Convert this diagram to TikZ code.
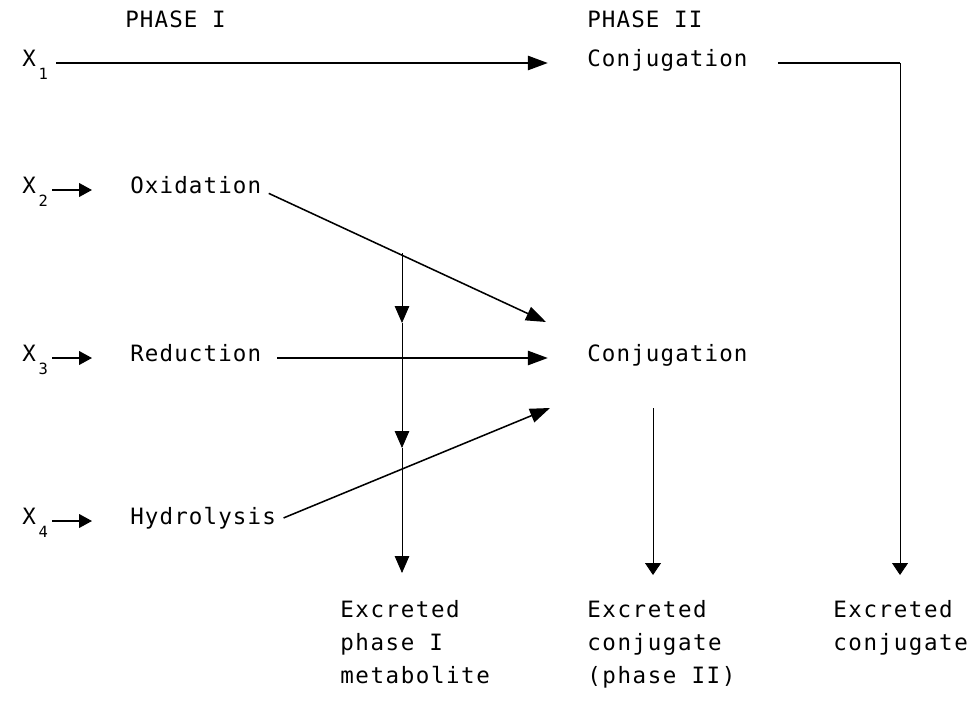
\documentclass[tikz,border=0pt]{standalone}
\usepackage{fontspec}
\setmonofont[LetterSpace=5]{DejaVu Sans Mono}
\newfontfamily\widemono[LetterSpace=7]{DejaVu Sans Mono}
\usetikzlibrary{arrows.meta}
\newcommand{\xsub}[1]{X\kern2pt\raisebox{-1.1ex}{\fontsize{11}{11}\selectfont #1}}

\begin{document}
\begin{tikzpicture}[x=0.025cm,y=-0.025cm,
  every node/.style={font=\ttfamily\fontsize{16}{22}\selectfont,inner sep=0pt,anchor=mid west},
  flow/.style={line width=1.1pt,-{Triangle[length=0.5cm,width=0.36cm]}},
  feed/.style={line width=1.1pt,-{Triangle[length=0.32cm,width=0.34cm]}},
  drop/.style={line width=0.6pt,-{Triangle[length=0.42cm,width=0.36cm]}},
  tail/.style={line width=0.6pt,-{Triangle[length=0.3cm,width=0.4cm]}},
  outlabel/.style={anchor=north west,align=left,font=\widemono\fontsize{16}{23.5}\selectfont}]
  \useasboundingbox (0,0) rectangle (977,709);
  % column heads
  \node (ph1) at (125,24) {PHASE I};
  \node (ph2) at (587,24) {PHASE II};
  % substrates
  \node (x1) at (22,63) {\xsub{1}};
  \node (x2) at (22,190) {\xsub{2}};
  \node (x3) at (22,358) {\xsub{3}};
  \node (x4) at (22,521) {\xsub{4}};
  % phase I reactions
  \node (ox) at (130,190) {Oxidation};
  \node (red) at (130,358) {Reduction};
  \node (hyd) at (130,521) {Hydrolysis};
  % phase II
  \node (conjA) at (587,63) {Conjugation};
  \node (conjB) at (587,358) {Conjugation};
  % excreted products
  \node[outlabel] (exc1) at (340,600) {Excreted\\phase I\\metabolite};
  \node[outlabel] (exc2) at (587,600) {Excreted\\conjugate\\(phase II)};
  \node[outlabel] (exc3) at (833,600) {Excreted\\conjugate};
  % free ends
  \coordinate (inA) at (546,322);
  \coordinate (inC) at (550,408);
  \coordinate (b1) at (402,253);
  \coordinate (m1) at (402,323);
  \coordinate (m2) at (402,448);
  \coordinate (m3) at (402,573);
  \coordinate (c2) at (653,408);
  \coordinate (d2) at (653,575);
  \coordinate (d3) at (900,575);
  % arrows
  \draw[flow,shorten <=0.2cm,shorten >=0.98cm] (x1.mid east) -- (conjA.mid west);
  \draw[feed,shorten <=0.1cm,shorten >=0.95cm] (x2.mid east) -- (ox.mid west);
  \draw[feed,shorten <=0.1cm,shorten >=0.95cm] (x3.mid east) -- (red.mid west);
  \draw[feed,shorten <=0.1cm,shorten >=0.95cm] (x4.mid east) -- (hyd.mid west);
  \draw[flow,shorten <=0.2cm] (ox.mid east) -- (inA);
  \draw[flow,shorten <=0.4cm,shorten >=0.98cm] (red.mid east) -- (conjB.mid west);
  \draw[flow,shorten <=0.2cm] (hyd.mid east) -- (inC);
  \draw[drop] (b1) -- (m1);
  \draw[drop] (m1) -- (m2);
  \draw[drop] (m2) -- (m3);
  \draw[tail] (c2) -- (d2);
  \draw[line width=1.1pt,shorten <=0.75cm] (conjA.mid east) -- (conjA.mid east -| d3);
  \draw[tail] (conjA.mid east -| d3) -- (d3);
\end{tikzpicture}
\end{document}
